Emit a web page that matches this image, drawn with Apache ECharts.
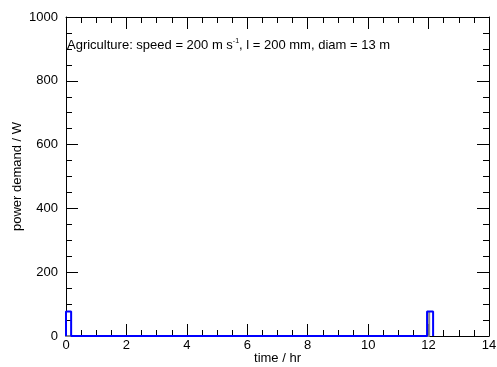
<!DOCTYPE html>
<html><head><meta charset="utf-8">
<script src="https://cdn.jsdelivr.net/npm/echarts@6/dist/echarts.min.js"></script>
<style>html,body{margin:0;padding:0;background:#fff}#c{width:497px;height:367px}</style>
</head><body><div id="c"></div>
<script>
const blueTime = [0, 0, 0.17, 0.17, 11.95, 11.95, 12.15, 12.15];
const bluePower = [0, 77, 77, 0, 0, 77, 77, 0];
const greyTime = [0, 0, 0, 12.02, 12.02, 12.02];
const greyPower = [0, 77, 0, 0, 77, 0];
const xTicks = [0, 2, 4, 6, 8, 10, 12, 14];
const yTicks = [0, 200, 400, 600, 800, 1000];

const font = 'Liberation Sans, Arial, sans-serif';
const chart = echarts.init(document.getElementById('c'), null, {renderer: 'canvas'});
const axBase = (show) => ({
  axisLine: {show: true, onZero: false, lineStyle: {color: '#000', width: 1}},
  axisTick: {show: true, inside: true, length: 12, lineStyle: {color: '#000', width: 1}},
  minorTick: {show: true, splitNumber: 4, length: 6, lineStyle: {color: '#000', width: 1}},
  splitLine: {show: false},
  axisLabel: {show: show, color: '#000', fontFamily: font, fontSize: 13, formatter: v => String(v)}
});
chart.setOption({
  animation: false,
  grid: {left: 66, right: 8, top: 17, bottom: 31, containLabel: false, outerBoundsMode: 'none'},
  xAxis: [
    Object.assign({type: 'value', min: xTicks[0], max: xTicks[xTicks.length-1], interval: 2,
      name: 'time / hr', nameLocation: 'middle', nameGap: 16, nameMoveOverlap: false,
      nameTextStyle: {color: '#000', fontFamily: font, fontSize: 13}}, axBase(true),
      {axisLabel: {show: true, color: '#000', fontFamily: font, fontSize: 13, margin: 3, formatter: v => String(v)}}),
    Object.assign({type: 'value', position: 'top', min: 0, max: 14, interval: 2}, axBase(false))
  ],
  yAxis: [
    Object.assign({type: 'value', min: yTicks[0], max: yTicks[yTicks.length-1], interval: 200,
      name: 'power demand / W', nameLocation: 'middle', nameGap: 42, nameMoveOverlap: false,
      nameTextStyle: {color: '#000', fontFamily: font, fontSize: 13}}, axBase(true),
      {axisLabel: {show: true, color: '#000', fontFamily: font, fontSize: 13, margin: 8, formatter: v => String(v)}}),
    Object.assign({type: 'value', position: 'right', min: 0, max: 1000, interval: 200}, axBase(false))
  ],
  series: [
    {type: 'line', data: greyTime.map((t, i) => [t, greyPower[i]]), symbol: 'none',
      lineStyle: {color: '#888', width: 2}, z: 2},
    {type: 'line', data: blueTime.map((t, i) => [t, bluePower[i]]), symbol: 'none',
      lineStyle: {color: '#0000ff', width: 2}, z: 3}
  ],
  graphic: [{
    type: 'text', left: 67, top: 38,
    style: {
      rich: {
        n: {fontFamily: font, fontSize: 13, fill: '#000'},
        s: {fontFamily: font, fontSize: 7, fill: '#000', verticalAlign: 'top', padding: [0, 0, 8, 0]}
      },
      text: '{n|Agriculture: speed = 200 m s}{s|-1}{n|, l = 200 mm, diam = 13 m}'
    }
  }]
});
</script></body></html>
